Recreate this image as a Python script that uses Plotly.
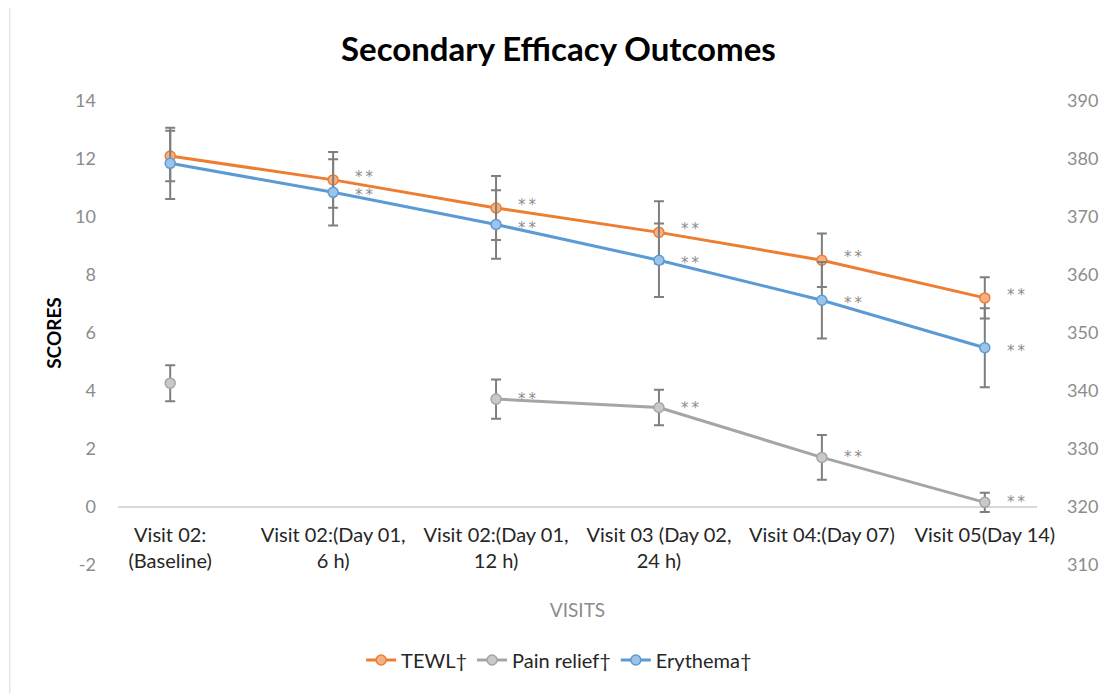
import plotly.graph_objects as go

visits = ["Visit 02:<br>(Baseline)", "Visit 02:(Day 01,<br>6 h)", "Visit 02:(Day 01,<br>12 h)",
          "Visit 03 (Day 02,<br>24 h)", "Visit 04:(Day 07)", "Visit 05(Day 14)"]

tewl = [12.10, 11.28, 10.31, 9.47, 8.51, 7.21]
tewl_err = [0.87, 0.96, 1.10, 1.07, 0.92, 0.71]
tewl_sig = ["", "**", "**", "**", "**", "**"]

pain = [4.27, None, 3.72, 3.43, 1.71, 0.16]
pain_err = [0.62, None, 0.68, 0.61, 0.77, 0.33]
pain_sig = ["", "", "**", "**", "**", "**"]

ery = [11.85, 10.85, 9.74, 8.51, 7.13, 5.49]
ery_err = [1.23, 1.14, 1.18, 1.27, 1.32, 1.36]
ery_sig = ["", "**", "**", "**", "**", "**"]

left_ticks = [-2, 0, 2, 4, 6, 8, 10, 12, 14]
left_labels = ["-2", "0", "2", "4", "6", "8", "10", "12", "14"]
right_ticks = [310, 320, 330, 340, 350, 360, 370, 380, 390]

FONT = "Lato"
ERR_COLOR = "#7F7F7F"

# figure is drawn inside an 8px page margin
W, H = 1102, 685
L, R, T, B = 110, 62, 93, 128
PW, PH = W - L - R, H - T - B

series = [
    ("TEWL†", tewl, tewl_err, tewl_sig, "#ED7D31", "#F4B183", 3),
    ("Pain relief†", pain, pain_err, pain_sig, "#A5A5A5", "#C9C9C9", 0),
    ("Erythema†", ery, ery_err, ery_sig, "#5B9BD5", "#9DC3E6", -3),
]

fig = go.Figure()
annotations = []
for name, vals, errs, sigs, col, fill, ysh in series:
    fig.add_trace(go.Scatter(
        x=visits, y=vals, name=name, mode="lines+markers",
        line=dict(color=col, width=3),
        marker=dict(symbol="circle", size=10, color=fill, line=dict(color=col, width=1.5)),
        error_y=dict(type="data", array=errs, visible=True, color=ERR_COLOR, thickness=2, width=5),
        connectgaps=False,
    ))
    for xv, yv, s in zip(visits, vals, sigs):
        if s and yv is not None:
            annotations.append(dict(x=xv, y=yv, text="\u2009".join(s), showarrow=False, xref="x", yref="y",
                                    xshift=31, yshift=ysh, borderpad=0,
                                    font=dict(family="DejaVu Sans", size=15, color="#8C8C8C")))

# invisible trace to activate secondary axis
fig.add_trace(go.Scatter(x=[visits[0]], y=[right_ticks[0]], yaxis="y2", mode="markers",
                         marker=dict(opacity=0), showlegend=False, hoverinfo="skip"))

annotations.append(dict(text="<b>Secondary Efficacy Outcomes</b>",
                        x=(564 - 8 - L) / PW, y=(H - B - (48 - 8)) / PH,
                        xref="paper", yref="paper", showarrow=False,
                        xanchor="center", yanchor="middle",
                        font=dict(family=FONT, size=33, color="#000000")))

fig.update_layout(
    width=W, height=H,
    margin=dict(l=L, r=R, t=T, b=B),
    paper_bgcolor="white", plot_bgcolor="white",
    font=dict(family=FONT, size=15, color="#262626"),
    annotations=annotations,
    showlegend=True,
    legend=dict(orientation="h", x=0.48, xanchor="center", y=(H - B - (660 - 8)) / PH, yanchor="middle",
                font=dict(family=FONT, size=20, color="#262626")),
    xaxis=dict(showgrid=False, showline=False, ticks="", anchor="free", position=2 / 16,
               tickfont=dict(size=20, color="#262626"), ticklabelstandoff=14,
               title=dict(text="VISITS", font=dict(size=19, color="#8C8C8C"), standoff=32)),
    yaxis=dict(range=[-2, 14], tickvals=left_ticks, ticktext=left_labels, showgrid=False, showline=False,
               zeroline=True, zerolinecolor="#D9D9D9", zerolinewidth=1.5,
               tickfont=dict(size=18, color="#8C8C8C"), ticks="", ticklabelstandoff=21,
               title=dict(text="<b>SCORES</b>", font=dict(size=19, color="#000000"), standoff=8)),
    yaxis2=dict(range=[310, 390], tickvals=right_ticks, overlaying="y", side="right",
                showgrid=False, showline=False, zeroline=False, ticks="",
                tickfont=dict(size=18, color="#8C8C8C"), ticklabelstandoff=29),
    shapes=[dict(type="rect", xref="paper", yref="paper",
                 x0=(0.5 - L) / PW, x1=(W + 20 - L) / PW, y0=(H - B - (H + 20)) / PH,
                 y1=(H - B + 1) / PH,
                 line=dict(color="#D9D9D9", width=1), fillcolor="rgba(0,0,0,0)", layer="below")],
)

fig.write_html("out.html")
